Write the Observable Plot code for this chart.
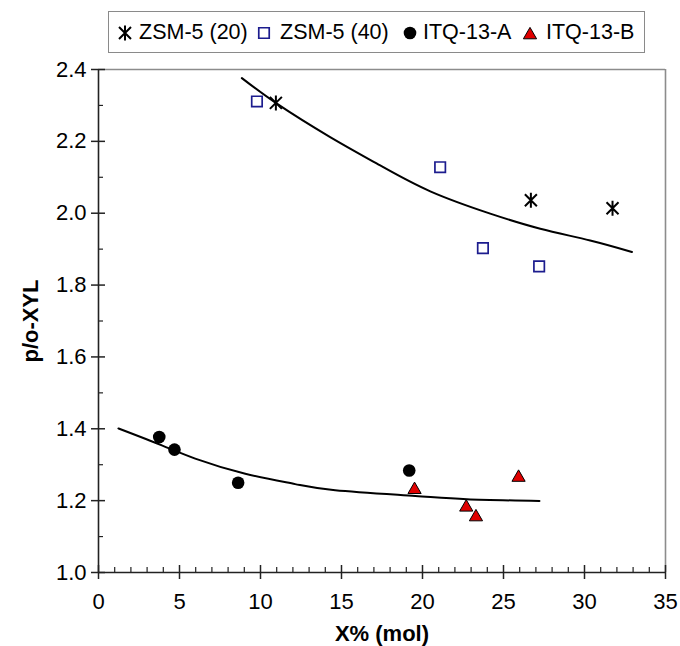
<!DOCTYPE html>
<html>
<head>
<meta charset="utf-8">
<script src="https://cdn.jsdelivr.net/npm/d3@7"></script>
<script src="https://cdn.jsdelivr.net/npm/@observablehq/plot@0.6"></script>
<style>
  body { margin: 0; background: #fff; font-family: "Liberation Sans", Arial, sans-serif; }
  #wrap { width: 680px; }
  #legendRow { position: relative; width: 680px; height: 60px; }
  #legend { position: absolute; left: 108px; top: 11px; width: 535px; height: 40px;
            border: 1.5px solid #8a8a8a; font-size: 21.5px; color: #000; }
  .item-sym { position: absolute; top: 12px; }
  .item-txt { position: absolute; top: 7px; line-height: 26px; white-space: nowrap; }
</style>
</head>
<body>
<div id="wrap">
  <div id="legendRow"><div id="legend"></div></div>
  <div id="chart"></div>
</div>
<script>
// ---- data ----
const seriesNames = ["ZSM-5 (20)", "ZSM-5 (40)", "ITQ-13-A", "ITQ-13-B"];

const zsm20X = [10.95, 26.69, 31.73];
const zsm20Y = [2.307, 2.036, 2.014];

const zsm40X = [9.78, 21.09, 23.73, 27.20];
const zsm40Y = [2.311, 2.128, 1.903, 1.852];

const itqAX = [3.75, 4.69, 8.62, 19.18];
const itqAY = [1.377, 1.342, 1.250, 1.284];

const itqBX = [19.51, 22.70, 23.30, 25.93];
const itqBY = [1.236, 1.187, 1.160, 1.270];

// trend curves
const fitTopX = [8.85, 11.01, 14.30, 17.39, 20.48, 24.18, 27.27, 30.35, 32.93];
const fitTopY = [2.376, 2.305, 2.212, 2.133, 2.061, 1.999, 1.957, 1.924, 1.892];

const fitBotX = [1.23, 3.91, 5.97, 9.06, 12.14, 14.61, 19.55, 22.74, 27.22];
const fitBotY = [1.401, 1.354, 1.317, 1.275, 1.246, 1.229, 1.213, 1.204, 1.199];

// axis ticks
const xMajor = [0, 5, 10, 15, 20, 25, 30, 35];
const xMinor = d3.range(0, 36, 1).filter(v => v % 5 !== 0);
const yMajor = [1.0, 1.2, 1.4, 1.6, 1.8, 2.0, 2.2, 2.4];
const yMinor = [1.1, 1.3, 1.5, 1.7, 1.9, 2.1, 2.3];

const zip = (xs, ys) => xs.map((x, i) => ({x, y: ys[i]}));
const zsm20 = zip(zsm20X, zsm20Y);
const zsm40 = zip(zsm40X, zsm40Y);
const itqA = zip(itqAX, itqAY);
const itqB = zip(itqBX, itqBY);
const fitTop = zip(fitTopX, fitTopY);
const fitBot = zip(fitBotX, fitBotY);

// Excel-like asterisk: vertical bar plus an X
const asterisk = {
  draw(context, size) {
    const r = Math.sqrt(size / Math.PI);
    const d = r * 0.8;
    context.moveTo(0, -r); context.lineTo(0, r);
    context.moveTo(-d, -d); context.lineTo(d, d);
    context.moveTo(-d, d); context.lineTo(d, -d);
  }
};

const navy = "#1c1c8e";
const red = "#e00000";
const axisColor = "#222";
const font = "Liberation Sans, Arial, sans-serif";

const chart = Plot.plot({
  width: 680,
  height: 586,
  marginTop: 9,
  marginBottom: 74,
  marginLeft: 98,
  marginRight: 15,
  style: {fontFamily: font, fontSize: "22px", color: "#000", background: "#fff", overflow: "visible"},
  x: {domain: [0, 35]},
  y: {domain: [1.0, 2.4]},
  marks: [
    // top and right frame lines
    Plot.ruleY([2.4], {stroke: "#8c8c8c", strokeWidth: 1.6}),
    Plot.ruleX([35], {stroke: "#8c8c8c", strokeWidth: 1.6}),
    // tick labels
    Plot.axisX({ticks: xMajor, tickSize: 0, tickPadding: 21, tickFormat: d => String(d), label: null, fontSize: 22}),
    Plot.axisY({ticks: yMajor, tickSize: 0, tickPadding: 12, tickFormat: d3.format(".1f"), label: null, fontSize: 22}),
    // x ticks: major cross the axis, minor point inward
    Plot.ruleX(xMajor, {x: d => d, y1: 1.0, y2: 1.0, insetTop: -7, insetBottom: -7, stroke: axisColor, strokeWidth: 1.5}),
    Plot.ruleX(xMinor, {x: d => d, y1: 1.0, y2: 1.0, insetTop: -5, insetBottom: 0, stroke: axisColor, strokeWidth: 1.2}),
    // y ticks
    Plot.ruleY(yMajor, {y: d => d, x1: 0, x2: 0, insetLeft: -7, insetRight: -7, stroke: axisColor, strokeWidth: 1.5}),
    Plot.ruleY(yMinor, {y: d => d, x1: 0, x2: 0, insetLeft: 0, insetRight: -5, stroke: axisColor, strokeWidth: 1.2}),
    // axis lines
    Plot.ruleX([0], {stroke: axisColor, strokeWidth: 1.6}),
    Plot.ruleY([1.0], {stroke: axisColor, strokeWidth: 1.6}),
    // trend curves
    Plot.line(fitTop, {x: "x", y: "y", curve: "natural", stroke: "#000", strokeWidth: 2}),
    Plot.line(fitBot, {x: "x", y: "y", curve: "natural", stroke: "#000", strokeWidth: 2}),
    // points
    Plot.dot(zsm40, {x: "x", y: "y", symbol: "square", r: 5.9, stroke: navy, strokeWidth: 1.7, fill: "none"}),
    Plot.dot(zsm20, {x: "x", y: "y", symbol: asterisk, r: 7.5, stroke: "#000", strokeWidth: 2, fill: "none"}),
    Plot.dot(itqA, {x: "x", y: "y", symbol: "circle", r: 6.3, fill: "#000", stroke: "none"}),
    Plot.dot(itqB, {x: "x", y: "y", symbol: "triangle", r: 4.9, dy: 2, fill: red, stroke: "#000", strokeWidth: 1}),
    // axis titles
    Plot.text(["X% (mol)"], {frameAnchor: "bottom", dy: 61, lineAnchor: "middle", textAnchor: "middle", text: d => d, fontWeight: "bold", fontSize: 22}),
    Plot.text(["p/o-XYL"], {frameAnchor: "left", dx: -68, rotate: -90, lineAnchor: "middle", textAnchor: "middle", text: d => d, fontWeight: "bold", fontSize: 22})
  ]
});
document.getElementById("chart").appendChild(chart);

// ---- legend ----
const legend = d3.select("#legend");
const legendItems = [
  {name: seriesNames[0], sym: asterisk, sx: 16, tx: 30, stroke: "#000", fill: "none", sw: 2, r: 7.5},
  {name: seriesNames[1], sym: d3.symbolSquare, sx: 155, tx: 171, stroke: navy, fill: "none", sw: 1.7, r: 5.9},
  {name: seriesNames[2], sym: d3.symbolCircle, sx: 301, tx: 314, stroke: "none", fill: "#000", sw: 0, r: 6.3},
  {name: seriesNames[3], sym: d3.symbolTriangle, sx: 421, tx: 437, stroke: "#000", fill: red, sw: 1, r: 4.9}
];
for (const it of legendItems) {
  const s = legend.append("svg")
    .attr("class", "item-sym")
    .attr("width", 18).attr("height", 18)
    .style("left", (it.sx - 9) + "px")
    .style("overflow", "visible");
  s.append("path")
    .attr("transform", `translate(9,${it.sym === d3.symbolTriangle ? 11 : 9})`)
    .attr("d", d3.symbol(it.sym, Math.PI * it.r * it.r)())
    .attr("fill", it.fill).attr("stroke", it.stroke).attr("stroke-width", it.sw);
  legend.append("div")
    .attr("class", "item-txt")
    .style("left", it.tx + "px")
    .text(it.name);
}
</script>
</body>
</html>
